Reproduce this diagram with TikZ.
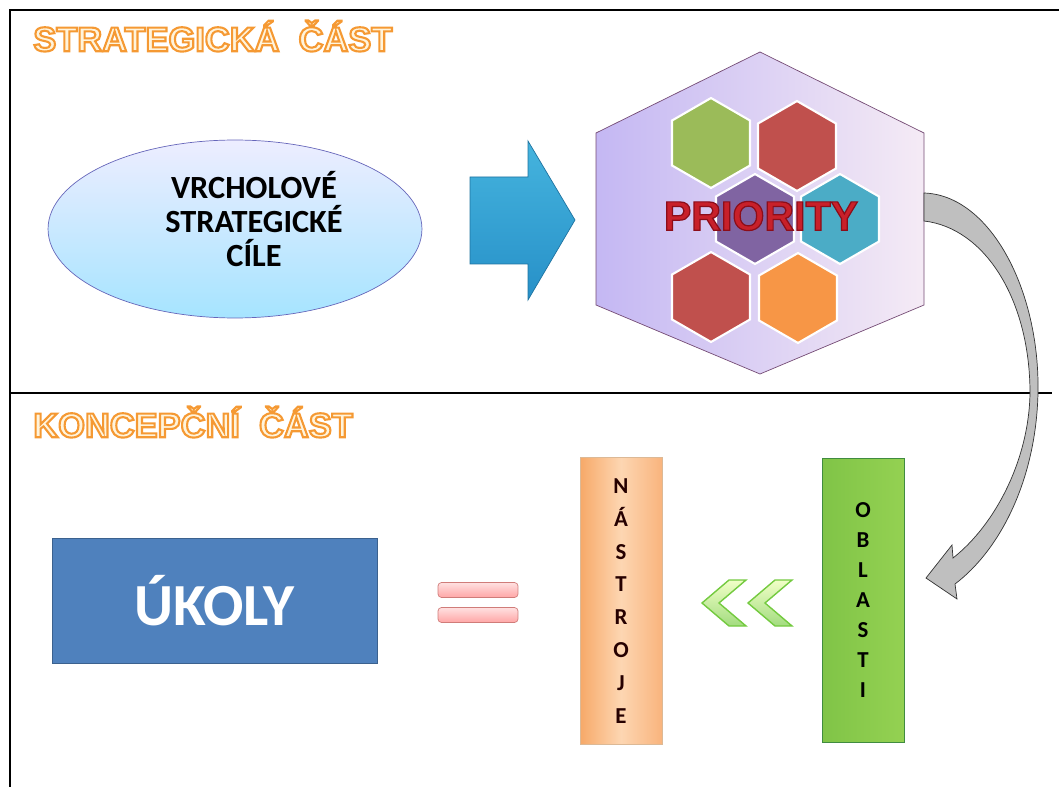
\documentclass[tikz,border=0pt]{standalone}
\usepackage{fontspec}
\setmainfont{Carlito}
\newfontfamily\headfont{Liberation Sans}
\usetikzlibrary{shapes.geometric,positioning}
\definecolor{officegreen}{HTML}{9BBB59}
\definecolor{officered}{HTML}{C0504D}
\definecolor{officepurple}{HTML}{8064A2}
\definecolor{officeteal}{HTML}{4BACC6}
\definecolor{officeorange}{HTML}{F79646}
\definecolor{officeblue}{HTML}{4F81BD}
\definecolor{priored}{HTML}{C8202A}
\definecolor{paleyellow}{HTML}{FFF4DC}
\definecolor{arrowtop}{HTML}{45B4DE}
\definecolor{arrowbottom}{HTML}{2790C8}
\definecolor{peachleft}{HTML}{F7A968}
\definecolor{peachmid}{HTML}{FDD6B2}
\definecolor{peachright}{HTML}{F9B47D}
\definecolor{leafleft}{HTML}{80C447}
\definecolor{leafright}{HTML}{94D152}
% outlined letters: fill in text colour, coloured stroke
\newcommand{\hollowtext}[3]{%
  \special{pdf:literal direct 2 Tr #1 w #2 RG}#3\special{pdf:literal direct 0 Tr}}
\tikzset{
    %Define style for frame lines
    frame/.style={
           draw=black,
           line width=1.2pt},
    %Define style for section titles
    parttitle/.style={
           anchor=west,
           text=paleyellow,
           inner sep=0pt,
           font=\headfont\bfseries\fontsize{19.6}{22}\selectfont},
    %Define style for the goal ellipse
    goal/.style={
           ellipse,
           draw=black!45!blue!60,
           top color=blue!7,
           bottom color=blue!30!cyan!35,
           minimum width=7.48cm,
           minimum height=3.56cm},
    %Define style for the hexagons
    prio/.style={
           draw=black!55!violet!70,
           left color=violet!35!blue!28,
           right color=violet!8},
    honey/.style={
           regular polygon,
           regular polygon sides=6,
           shape border rotate=30,
           draw=white, line width=1.2pt,
           minimum size=1.8cm,
           inner sep=0pt},
    %Define style for boxes
    ukol/.style={
           rectangle,
           draw=officeblue!75!black,
           fill=officeblue,
           text=white,
           minimum width=6.5cm,
           minimum height=2.5cm,
           font=\bfseries\fontsize{34}{38}\selectfont},
    column/.style={
           rectangle,
           minimum width=1.64cm,
           align=center,
           font=\bfseries\fontsize{13}{18.7}\selectfont},
    eqbar/.style={
           rectangle,
           rounded corners=2pt,
           draw=officered!75,
           top color=red!12,
           bottom color=red!35,
           minimum width=1.6cm,
           minimum height=0.3cm},
    chevron/.style={
           draw=green!45!olive!75,
           line width=0.8pt,
           top color=green!25!yellow!22,
           bottom color=green!45!olive!50},
    % Define arrow styles
    blockarrow/.style={
           draw=arrowbottom!80!black,
           top color=arrowtop,
           bottom color=arrowbottom},
    curvearrow/.style={
           draw=black!80,
           fill=black!25}
}
\begin{document}
\begin{tikzpicture}[x=0.02cm,y=-0.02cm]
\useasboundingbox (0,0) rectangle (1059,787);
% frame and separator
\draw[frame] (1059,10) -- (10,10) -- (10,787);
\draw[frame] (10,393) -- (1052,393);
% titles
\node[parttitle] (strat) at (33,36) {\hollowtext{1.2}{0.96 0.6 0.2}{STRATEGICKÁ\ \ ČÁST}};
\node[parttitle] (konc) at (33,422) {\hollowtext{1.2}{0.96 0.6 0.2}{KONCEPČNÍ\ \ ČÁST}};
% strategic part
\node[goal] (goal) at (235,229) {};
\node[align=center, font=\bfseries\fontsize{18.4}{19.5}\selectfont] (goaltext) at (254,219)
    {VRCHOLOVÉ\\STRATEGICKÉ\\CÍLE};
\draw[blockarrow] (470,177) -- (528,177) -- (528,141) -- (575,220) -- (528,300)
    -- (528,264) -- (470,264) -- cycle;
\draw[prio] (760,52) -- (924,133) -- (924,305) -- (760,374) -- (596,305) -- (596,133) -- cycle;
\coordinate (prio east) at (924,207);
\foreach \pos/\col/\nm in {(711,143)/officegreen/h1, (797,146)/officered/h2,
    (755,219)/officepurple/h3, (840,219)/officeteal/h4,
    (711,297)/officered/h5, (798,298)/officeorange/h6}
    \node[honey, fill=\col] (\nm) at \pos {};
\node[font=\headfont\bfseries\fontsize{23.4}{26}\selectfont, text=priored] (prio) at (761,216)
    {\hollowtext{0.7}{0.55 0.05 0.1}{PRIORITY}};
% curved arrow down to the conceptual part
\draw[curvearrow] (924,193) .. controls (990,195) and (1040,290) .. (1038,393)
    .. controls (1036,480) and (1000,550) .. (955,584)
    -- (957,599) -- (926,578) -- (952,545) -- (953,558)
    .. controls (995,525) and (1029,460) .. (1030,393)
    .. controls (1030,300) and (985,228) .. (924,221) -- cycle;
% conceptual part
\node[ukol] (ukoly) at (214.5,600.5) {ÚKOLY};
\node[eqbar] (eq1) at (478,590) {};
\node[eqbar] (eq2) at (478,615) {};
\node[column, draw=brown!55, left color=peachleft, right color=peachright,
    middle color=peachmid, minimum height=5.74cm, text=black!85!red] (nastroje) at (621,601)
    {N\\Á\\S\\T\\R\\O\\J\\E};
\foreach \x/\nm in {702/ch1, 748/ch2}
    \draw[chevron] (\x,603) -- (\x+27,580) -- (\x+44,580) -- (\x+17,603)
        -- (\x+44,626) -- (\x+27,626) -- cycle;
\node[column, draw=green!40!black!75, left color=leafleft, right color=leafright,
    minimum height=5.68cm, font=\bfseries\fontsize{13}{17}\selectfont] (oblasti) at (863,600)
    {O\\B\\L\\A\\S\\T\\I};
\end{tikzpicture}
\end{document}
